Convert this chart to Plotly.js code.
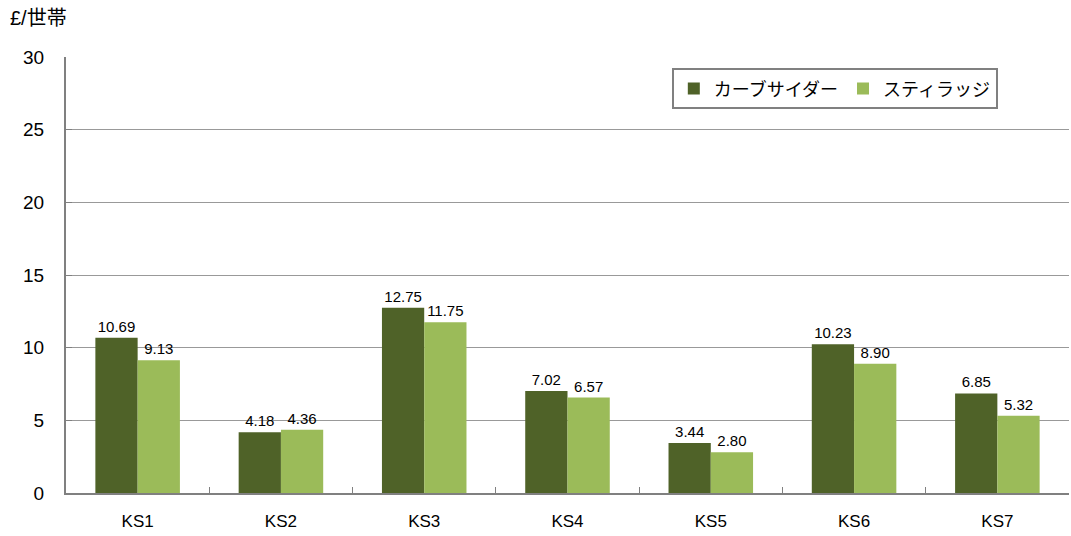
<!DOCTYPE html>
<html><head><meta charset="utf-8">
<script src="https://cdn.plot.ly/plotly-3.0.1.min.js"></script>
<style>body{margin:0;background:#fff}#chart{width:1071px;height:536px}</style>
</head><body><div id="chart"></div>
<script>
const categories = ['KS1','KS2','KS3','KS4','KS5','KS6','KS7'];
const carbSider = [10.69, 4.18, 12.75, 7.02, 3.44, 10.23, 6.85];
const stillage = [9.13, 4.36, 11.75, 6.57, 2.80, 8.90, 5.32];
const seriesNames = ['カーブサイダー', 'スティラッジ'];
const yTicks = [0,5,10,15,20,25,30];

const font = 'Arial, "Liberation Sans", "Noto Sans CJK JP", sans-serif';
function tr(vals, name, color){
  return {type:'bar', x:categories, y:vals, name:name, marker:{color:color},
    text:vals.map(v=>v.toFixed(2)), textposition:'outside', cliponaxis:false,
    textfont:{family:font, size:15, color:'#000'}, hoverinfo:'none'};
}
const data = [tr(carbSider, seriesNames[0], '#4F6228'), tr(stillage, seriesNames[1], '#9BBB59')];
const layout = {
  width:1071, height:536, margin:{l:66, r:2, t:57, b:43},
  paper_bgcolor:'#fff', plot_bgcolor:'#fff',
  barmode:'group', bargap:0.41, bargroupgap:0,
  font:{family:font, color:'#000'},
  xaxis:{showline:true, linecolor:'#808080', linewidth:2, ticks:'inside', tickson:'boundaries', ticklen:6, tickcolor:'#808080',
    tickfont:{size:17}, showgrid:false, ticklabelstandoff:12},
  yaxis:{range:[0,30], tickvals:yTicks, showline:true, linecolor:'#808080', linewidth:2, ticks:'inside', ticklen:6, tickcolor:'#808080',
    gridcolor:'#999', gridwidth:1, tickfont:{size:19}, zeroline:false, ticklabelstandoff:16, fixedrange:true},
  showlegend:true,
  legend:{orientation:'h', x:0.604, y:0.974, xanchor:'left', yanchor:'top', bordercolor:'#808080', borderwidth:2, bgcolor:'#fff',
    font:{size:18}, itemwidth:30, tracegroupgap:0},
  annotations:[{text:'£/世帯', xref:'paper', yref:'paper', x:-0.058, y:1.06, xanchor:'left', yanchor:'bottom', showarrow:false,
    font:{size:20, family:font}}]
};
Plotly.newPlot('chart', data, layout, {displayModeBar:false, staticPlot:true});
</script></body></html>
